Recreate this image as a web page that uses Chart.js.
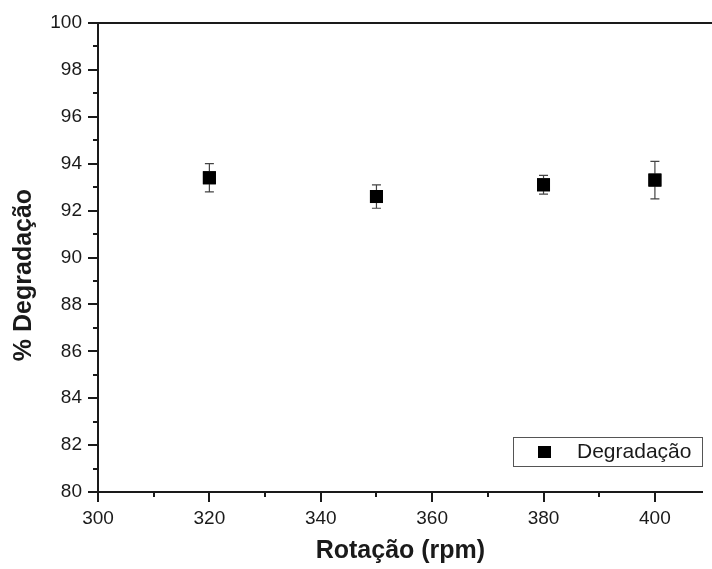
<!DOCTYPE html>
<html lang="pt">
<head>
<meta charset="utf-8">
<title>% Degradação x Rotação</title>
<script src="https://cdn.jsdelivr.net/npm/chart.js@4.4.1/dist/chart.umd.min.js"></script>
<style>
  html, body { margin: 0; padding: 0; background: #ffffff; }
  canvas { display: block; }
</style>
</head>
<body>
<canvas id="grafico" width="712" height="569"></canvas>
<script>
// dados:
const rotacoes = [320, 350, 380, 400];
const degradacao = [93.4, 92.6, 93.1, 93.3];
const erros = [0.6, 0.5, 0.4, 0.8];
const ticksX = [300, 310, 320, 330, 340, 350, 360, 370, 380, 390, 400];
const ticksY = [80, 81, 82, 83, 84, 85, 86, 87, 88, 89, 90, 91, 92, 93, 94, 95, 96, 97, 98, 99, 100];

const corEixo = "#1a1a1a";
const familia = "Arial, 'Liberation Sans', sans-serif";
const fonteTicks = { family: familia, size: 19 };
const fonteTitulo = { family: familia, size: 25, weight: "bold" };

// barras de erro, marcas dos eixos, borda de cima, título do eixo y e legenda
const pluginExtras = {
  id: "extras",
  afterDatasetsDraw(chart) {
    const ctx = chart.ctx;
    const x = chart.scales.x;
    const y = chart.scales.y;

    ctx.save();
    ctx.strokeStyle = "#444444";
    ctx.lineWidth = 1.2;
    rotacoes.forEach((r, i) => {
      const px = x.getPixelForValue(r);
      const topo = y.getPixelForValue(degradacao[i] + erros[i]);
      const base = y.getPixelForValue(degradacao[i] - erros[i]);
      ctx.beginPath();
      ctx.moveTo(px, topo); ctx.lineTo(px, base);
      ctx.moveTo(px - 4.5, topo); ctx.lineTo(px + 4.5, topo);
      ctx.moveTo(px - 4.5, base); ctx.lineTo(px + 4.5, base);
      ctx.stroke();
    });
    ctx.restore();

    // pontos por cima das barras
    chart.getDatasetMeta(0).data.forEach((p) => p.draw(ctx));
  },
  afterDraw(chart) {
    const ctx = chart.ctx;
    const x = chart.scales.x;
    const y = chart.scales.y;
    const area = chart.chartArea;

    ctx.save();
    ctx.strokeStyle = corEixo;
    ctx.lineWidth = 2;
    // borda de cima
    ctx.beginPath();
    ctx.moveTo(area.left - 1, area.top);
    ctx.lineTo(chart.width, area.top);
    ctx.stroke();

    // marcas do eixo x
    ticksX.forEach((v) => {
      const px = Math.round(x.getPixelForValue(v));
      const tam = v % 20 === 0 ? 10 : 5;
      ctx.beginPath();
      ctx.moveTo(px, area.bottom);
      ctx.lineTo(px, area.bottom + tam);
      ctx.stroke();
    });
    // marcas do eixo y
    ticksY.forEach((v) => {
      const py = Math.round(y.getPixelForValue(v));
      const tam = v % 2 === 0 ? 10 : 5;
      ctx.beginPath();
      ctx.moveTo(area.left, py);
      ctx.lineTo(area.left - tam, py);
      ctx.stroke();
    });

    // título do eixo y
    ctx.save();
    ctx.translate(24, 275);
    ctx.rotate(-Math.PI / 2);
    ctx.fillStyle = "#1a1a1a";
    ctx.font = "bold 25px " + familia;
    ctx.textAlign = "center";
    ctx.textBaseline = "middle";
    ctx.fillText("% Degradação", 0, 0);
    ctx.restore();

    // legenda
    const lx = 513, ly = 437, lw = 189, lh = 29;
    ctx.lineWidth = 1;
    ctx.strokeStyle = "#555555";
    ctx.fillStyle = "#ffffff";
    ctx.fillRect(lx, ly, lw, lh);
    ctx.strokeRect(lx + 0.5, ly + 0.5, lw, lh);
    ctx.fillStyle = "#000000";
    ctx.fillRect(538, 446, 13, 12);
    ctx.fillStyle = "#1a1a1a";
    ctx.font = "21px " + familia;
    ctx.textBaseline = "middle";
    ctx.textAlign = "left";
    ctx.fillText("Degradação", 577, ly + lh / 2 + 1);
    ctx.restore();
  },
};

function gerarGrafico() {
  const pontos = rotacoes.map((r, i) => ({ x: r, y: degradacao[i] }));

  return new Chart(document.getElementById("grafico"), {
    type: "scatter",
    data: {
      datasets: [
        {
          label: "Degradação",
          data: pontos,
          pointStyle: "rect",
          pointRadius: 9.2,
          pointHoverRadius: 9.2,
          backgroundColor: "#000000",
          borderColor: "#000000",
          borderWidth: 0,
        },
      ],
    },
    options: {
      responsive: false,
      animation: false,
      events: [],
      layout: { padding: { top: 23, right: 0, left: 0, bottom: 0 } },
      plugins: {
        legend: { display: false },
        tooltip: { enabled: false },
      },
      scales: {
        x: {
          type: "linear",
          min: 300,
          max: 408.6,
          afterBuildTicks: (scale) => {
            scale.ticks = ticksX.map((v) => ({ value: v }));
          },
          afterFit: (scale) => {
            scale.height = 77;
            scale.paddingLeft = 0;
            scale.paddingRight = 0;
          },
          grid: { display: false, drawTicks: false },
          border: { display: true, color: corEixo, width: 2 },
          ticks: {
            autoSkip: false,
            maxRotation: 0,
            padding: 15,
            color: "#1a1a1a",
            font: fonteTicks,
            callback: (v) => (v % 20 === 0 ? v : ""),
          },
          title: {
            display: true,
            text: "Rotação (rpm)",
            color: "#1a1a1a",
            font: fonteTitulo,
            padding: { top: 6, bottom: 3 },
          },
        },
        y: {
          type: "linear",
          min: 80,
          max: 100,
          afterBuildTicks: (scale) => {
            scale.ticks = ticksY.map((v) => ({ value: v }));
          },
          afterFit: (scale) => {
            scale.width = 98;
            scale.paddingTop = 0;
            scale.paddingBottom = 0;
          },
          grid: { display: false, drawTicks: false },
          border: { display: true, color: corEixo, width: 2 },
          ticks: {
            autoSkip: false,
            padding: 16,
            color: "#1a1a1a",
            font: fonteTicks,
            callback: (v) => (v % 2 === 0 ? v : ""),
          },
          title: { display: false },
        },
      },
    },
    plugins: [pluginExtras],
  });
}

addEventListener("load", gerarGrafico);
</script>
</body>
</html>
